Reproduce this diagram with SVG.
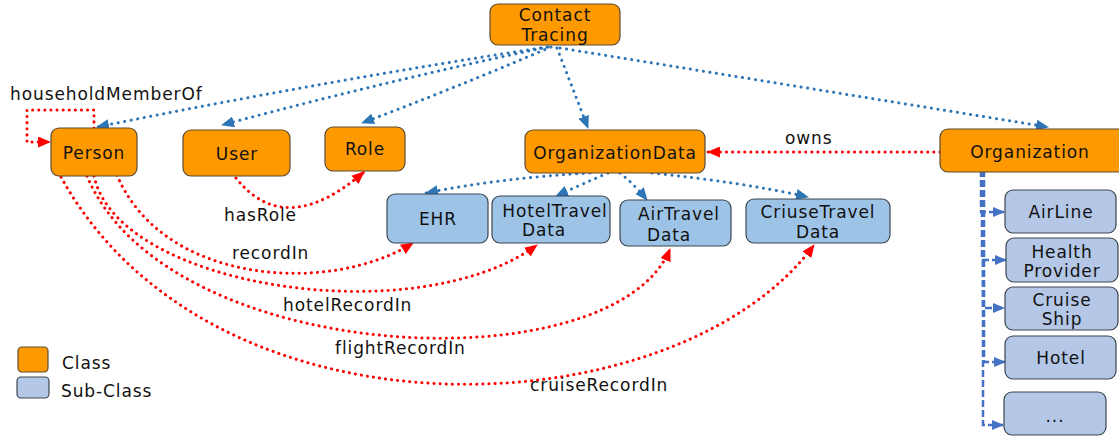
<svg xmlns="http://www.w3.org/2000/svg" width="1119" height="437" viewBox="0 0 1119 437">
<defs>
<style>
text{font-family:"DejaVu Sans","Verdana",sans-serif;font-size:17px;letter-spacing:0.9px;fill:#111;text-anchor:middle}
.lbl{text-anchor:start}
.cls{fill:#FF9900;stroke:#5a4a35;stroke-width:1.2}
.sub{fill:#9DC3E6;stroke:#3d4650;stroke-width:1.2}
.sub2{fill:#B4C7E7;stroke:#3d4650;stroke-width:1.2}
.bd{fill:none;stroke:#2E75B6;stroke-width:3;stroke-dasharray:0.1 6.5;stroke-linecap:round}
.rd{fill:none;stroke:#FF0000;stroke-width:3;stroke-dasharray:0.1 6;stroke-linecap:round}
.dsh{fill:none;stroke:#4472C4;stroke-width:2.5;stroke-dasharray:7 3}
</style>
<marker id="ab" markerWidth="13" markerHeight="11" refX="12" refY="5.5" orient="auto" markerUnits="userSpaceOnUse"><path d="M0,0 L13,5.5 L0,11 z" fill="#2E75B6"/></marker>
<marker id="ar" markerWidth="13" markerHeight="11" refX="12" refY="5.5" orient="auto" markerUnits="userSpaceOnUse"><path d="M0,0 L13,5.5 L0,11 z" fill="#FF0000"/></marker>
<marker id="ad" markerWidth="12" markerHeight="10" refX="11" refY="5" orient="auto" markerUnits="userSpaceOnUse"><path d="M0,0 L12,5 L0,10 z" fill="#4472C4"/></marker>
</defs>

<g id="connectors">
<path class="bd" d="M547,47 Q330,80 97,127" marker-end="url(#ab)"/>
<path class="bd" d="M548,47 Q390,80 222,125" marker-end="url(#ab)"/>
<path class="bd" d="M551,47 Q450,90 362,123" marker-end="url(#ab)"/>
<path class="bd" d="M557,48 L588,128" marker-end="url(#ab)"/>
<path class="bd" d="M560,48 L1048,127" marker-end="url(#ab)"/>
<path class="bd" d="M590,173 Q500,178 426,193" marker-end="url(#ab)"/>
<path class="bd" d="M608,173 Q580,185 556,196" marker-end="url(#ab)"/>
<path class="bd" d="M620,173 Q635,185 647,200" marker-end="url(#ab)"/>
<path class="bd" d="M652,173 Q740,182 808,197" marker-end="url(#ab)"/>
<path class="dsh" d="M981,170 V212 H1004" marker-end="url(#ad)"/>
<path class="dsh" d="M982,170 V260 H1006" marker-end="url(#ad)"/>
<path class="dsh" d="M983,170 V308 H1004" marker-end="url(#ad)"/>
<path class="dsh" d="M984,170 V362 H1005" marker-end="url(#ad)"/>
<path class="dsh" d="M983,170 V425 H1003" marker-end="url(#ad)"/>
<path class="rd" d="M94,128 V110 H27 V142 H50" marker-end="url(#ar)"/>
<path class="rd" d="M940,152 H708" marker-end="url(#ar)"/>
<path class="rd" d="M236,178 Q285,240 364,172" marker-end="url(#ar)"/>
<path class="rd" d="M117,175 C163,285 330,295 413,243" marker-end="url(#ar)"/>
<path class="rd" d="M94,176 C118,288 417,333 537,245" marker-end="url(#ar)"/>
<path class="rd" d="M87,176 C167,368 614,386 670,249" marker-end="url(#ar)"/>
<path class="rd" d="M61,177 C213,453 678,430 814,245" marker-end="url(#ar)"/>
<text class="lbl" x="10" y="100">householdMemberOf</text>
<text class="lbl" x="785" y="144">owns</text>
<text class="lbl" x="224" y="221">hasRole</text>
<text class="lbl" x="232" y="259">recordIn</text>
<text class="lbl" x="283" y="311">hotelRecordIn</text>
<text class="lbl" x="335" y="354">flightRecordIn</text>
<text class="lbl" x="530" y="391">cruiseRecordIn</text>
</g>

<g id="contact-tracing"><rect class="cls" x="490" y="4" width="130" height="41" rx="8"/><text x="555" y="21">Contact</text><text x="555" y="41">Tracing</text></g>
<g id="person"><rect class="cls" x="51" y="128" width="86" height="48" rx="8"/><text x="94" y="159">Person</text></g>
<g id="user"><rect class="cls" x="183" y="130" width="107" height="46" rx="8"/><text x="237" y="160">User</text></g>
<g id="role"><rect class="cls" x="325" y="127" width="80" height="44" rx="8"/><text x="365" y="155">Role</text></g>
<g id="organization-data"><rect class="cls" x="525" y="130" width="180" height="43" rx="8"/><text x="615" y="159">OrganizationData</text></g>
<g id="organization"><rect class="cls" x="940" y="129" width="185" height="43" rx="8"/><text x="1030" y="158">Organization</text></g>

<g id="ehr"><rect class="sub" x="387" y="194" width="101" height="49" rx="8"/><text x="438" y="225">EHR</text></g>
<g id="hotel-travel-data"><rect class="sub" x="492" y="196" width="118" height="47" rx="8"/><text x="555" y="217">HotelTravel</text><text x="544" y="236">Data</text></g>
<g id="air-travel-data"><rect class="sub" x="620" y="200" width="111" height="46" rx="8"/><text x="679" y="220">AirTravel</text><text x="669" y="241">Data</text></g>
<g id="cruise-travel-data"><rect class="sub" x="746" y="199" width="144" height="44" rx="8"/><text x="818" y="218">CriuseTravel</text><text x="818" y="238">Data</text></g>

<g id="airline"><rect class="sub2" x="1005" y="190" width="111" height="43" rx="8"/><text x="1061" y="218">AirLine</text></g>
<g id="health-provider"><rect class="sub2" x="1006" y="238" width="112" height="44" rx="8"/><text x="1062" y="258">Health</text><text x="1062" y="277">Provider</text></g>
<g id="cruise-ship"><rect class="sub2" x="1005" y="287" width="113" height="43" rx="8"/><text x="1062" y="306">Cruise</text><text x="1062" y="325">Ship</text></g>
<g id="hotel"><rect class="sub2" x="1005" y="336" width="111" height="43" rx="8"/><text x="1061" y="364">Hotel</text></g>
<g id="more"><rect class="sub2" x="1004" y="392" width="102" height="43" rx="8"/><text x="1055" y="422">...</text></g>

<g id="legend">
<rect class="cls" x="18" y="347" width="30" height="25" rx="4"/>
<text class="lbl" x="62" y="369">Class</text>
<rect class="sub2" x="17" y="377" width="32" height="21" rx="4"/>
<text class="lbl" x="61" y="397">Sub-Class</text>
</g>
</svg>
